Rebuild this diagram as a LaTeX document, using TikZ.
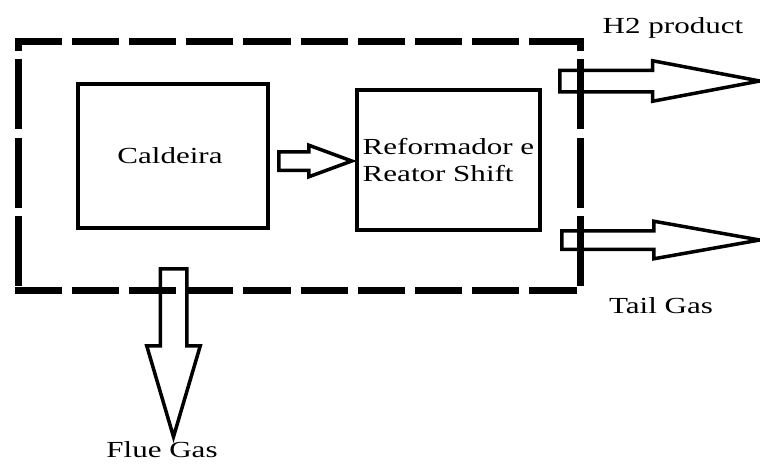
\documentclass[tikz,border=0pt]{standalone}
\usepackage{fontspec}
\setmainfont{Liberation Serif}[FakeStretch=1.35]
\usetikzlibrary{shapes.arrows, positioning}
\tikzset{
    unit/.style={rectangle, draw=black, line width=3.5pt, align=center, inner sep=2pt},
    frame/.style={rectangle, outer sep=0pt, minimum width=562pt, minimum height=249pt},
    edgeh/.style={line width=7pt, dash pattern=on 47.2pt off 10pt, shorten <=-3.5pt, shorten >=-3.5pt},
    edgev/.style={line width=7pt, dash pattern=on 70pt off 8.5pt, dash phase=57pt, shorten <=-3.5pt, shorten >=-3.5pt},
    flow/.style={single arrow, draw=black, line width=3.5pt, inner xsep=0pt, anchor=tail},
    tag/.style={anchor=base, inner sep=0pt}
}
\begin{document}
\begin{tikzpicture}[x=1pt, y=-1pt, font=\fontsize{23}{27}\selectfont]
    \useasboundingbox (0,0) rectangle (760,464);

        % plant boundary
        \node[frame] (plant) at (299,165.5) {};
        \draw[edgeh] (plant.north west) -- (plant.north east);
        \draw[edgeh] (plant.south west) -- (plant.south east);
        \draw[edgev] (plant.north west) -- (plant.south west);
        \draw[edgev] (plant.north east) -- (plant.south east);

        % process units
        \node[unit, minimum width=190pt, minimum height=144pt] (boiler) at (173,156) {\hspace*{-6pt}Caldeira};
        \node[unit, minimum width=183pt, minimum height=140pt, align=left] (reformer) at (448.5,160) {Reformador e\\Reator Shift};

        % streams
        \node[flow, minimum height=73pt, minimum width=28pt, inner ysep=7.5pt,
              single arrow head extend=6.5pt, single arrow tip angle=40.4] (feed) at (277,161) {};
        \node[flow, minimum height=200pt, minimum width=37pt, inner ysep=9pt,
              single arrow head extend=9.5pt, single arrow tip angle=21.4] (h2) at (558,81) {};
        \node[flow, minimum height=198pt, minimum width=34pt, inner ysep=7.5pt,
              single arrow head extend=9.5pt, single arrow tip angle=20.1] (tail) at (560,240) {};
        \node[flow, rotate=-90, minimum height=168pt, minimum width=50pt, inner ysep=11.5pt,
              single arrow head extend=13.5pt, single arrow tip angle=32.8] (flue) at (173.5,267) {};

        % stream names
        \node[tag] (h2name) at (673,33) {H2 product};
        \node[tag] (tailname) at (661,313) {Tail Gas};
        \node[tag] (fluename) at (162,457) {Flue Gas};
\end{tikzpicture}
\end{document}
